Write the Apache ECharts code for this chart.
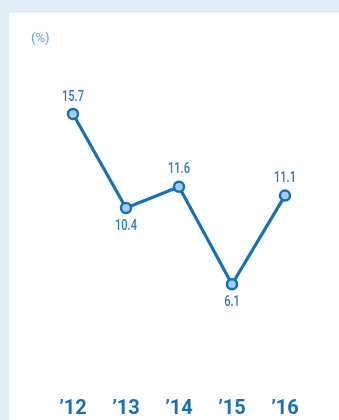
<!DOCTYPE html>
<html>
<head>
<meta charset="utf-8">
<script src="https://cdn.jsdelivr.net/npm/echarts@6/dist/echarts.min.js"></script>
<style>
  html, body { margin: 0; padding: 0; background: #e4eef8; }
  #chart { width: 339px; height: 420px; }
</style>
</head>
<body>
<div id="chart"></div>
<script>
// Annual rate, percent
const years = ['\u201912', '\u201913', '\u201914', '\u201915', '\u201916'];
const rates = [15.7, 10.4, 11.6, 6.1, 11.1];
// value label above (1) or below (-1) each point
const labelSide = [1, -1, 1, -1, 1];

const lineBlue = '#1670b8';
const textBlue = '#2a7cc3';

const chart = echarts.init(document.getElementById('chart'), null, { renderer: 'canvas' });

chart.setOption({
  backgroundColor: '#e4eef8',
  animation: false,
  graphic: [
    { type: 'rect', left: 9, top: 13, shape: { width: 330, height: 407 }, style: { fill: '#ffffff' }, z: -10 },
    { type: 'text', left: 31, top: 32, style: { text: '(%)', fill: '#5ba2d9', font: '13px Roboto, sans-serif' } }
  ],
  grid: { left: 46.5, right: 27.5, top: 37.7, bottom: 27.5 },
  xAxis: {
    type: 'category',
    data: years,
    boundaryGap: true,
    axisLine: { show: false },
    axisTick: { show: false },
    axisLabel: {
      margin: 6,
      color: '#1670b8',
      fontSize: 20,
      fontWeight: 'bold',
      fontFamily: 'Roboto, sans-serif'
    }
  },
  yAxis: {
    type: 'value',
    min: 0, max: 20,
    show: false,
    splitLine: { show: false }
  },
  series: [{
    type: 'line',
    data: rates,
    lineStyle: { color: lineBlue, width: 3.2 },
    symbol: 'circle',
    symbolSize: 10,
    itemStyle: { color: '#a8cdec', borderColor: lineBlue, borderWidth: 2.5 },
    z: 2
  }, {
    // narrow value labels, placed through the same axes as the line
    type: 'custom',
    data: rates.map((v, i) => [i, v, labelSide[i]]),
    renderItem: (params, api) => {
      const pt = api.coord([api.value(0), api.value(1)]);
      const side = api.value(2);
      return {
        type: 'text',
        x: pt[0],
        y: pt[1] + (side > 0 ? -17 : 18),
        scaleX: 0.74,
        style: {
          text: api.value(1).toFixed(1),
          x: 0, y: 0,
          align: 'center',
          verticalAlign: 'middle',
          fill: textBlue,
          font: '500 15px Roboto, sans-serif'
        }
      };
    },
    z: 3
  }]
});
</script>
</body>
</html>
